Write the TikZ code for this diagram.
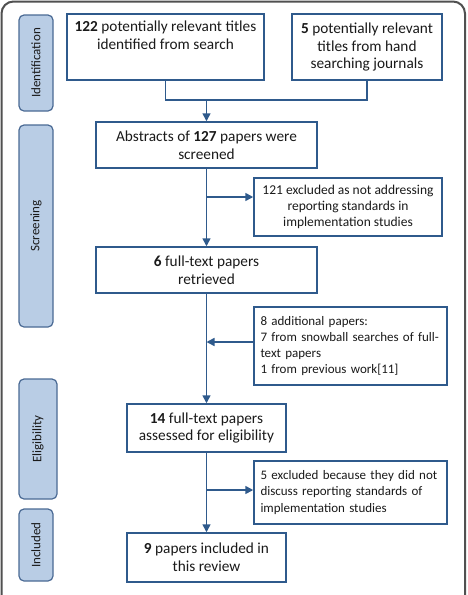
\documentclass[tikz,border=0pt]{standalone}
\usepackage{fontspec}
\setmainfont{Carlito}
\usetikzlibrary{arrows.meta}
\definecolor{boxblue}{HTML}{2F5A8C}
\definecolor{lblfill}{HTML}{B9CDE5}
\definecolor{lblline}{HTML}{4A6A94}
\definecolor{framegray}{HTML}{505050}
\definecolor{txt}{HTML}{1A1A1A}
\tikzset{
  box/.style={draw=boxblue, line width=1.5pt, rectangle, inner sep=0pt, align=center, text=txt, font=\fontsize{15.3}{17.7}\selectfont},
  sbox/.style={box, font=\fontsize{13.5}{16}\selectfont},
  lbox/.style={box, font=\fontsize{13}{16.3}\selectfont, align=left, text width=180pt},
  phase/.style={draw=lblline, fill=lblfill, line width=1.2pt, rounded corners=5pt, inner sep=0pt, text=txt},
  plabel/.style={rotate=90, text=txt, font=\fontsize{13}{15}\selectfont},
  conn/.style={draw=boxblue, line width=1.6pt},
  arr/.style={conn, -{Triangle[length=8pt,width=8pt]}}
}
\begin{document}
\begin{tikzpicture}[x=1pt,y=-1pt]
\useasboundingbox (0,0) rectangle (467,595);
\fill[white] (0,0) rectangle (467,595);
\draw[framegray, line width=2pt, rounded corners=12pt] (1.5,1.5) rectangle (465,640);
% phase labels
\node[phase, minimum width=34pt, minimum height=96pt] (pid) at (36,63) {};
\node[plabel] (tid) at (pid.center) {Identification};
\node[phase, minimum width=34pt, minimum height=202pt] (psc) at (36,226) {};
\node[plabel] (tsc) at (psc.center) {Screening};
\node[phase, minimum width=38pt, minimum height=120pt] (pel) at (38,439) {};
\node[plabel] (tel) at (pel.center) {Eligibility};
\node[phase, minimum width=34pt, minimum height=72pt] (pin) at (36,545) {};
\node[plabel] (tin) at (pin.center) {Included};
% boxes
\node[box, minimum width=197pt, minimum height=66pt] (b1) at (165.5,47) {\textbf{122} potentially relevant titles\\identified from search\\\strut};
\node[box, minimum width=150pt, minimum height=66pt] (b2) at (367,47) {\textbf{5} potentially relevant\\titles from hand\\searching journals};
\node[box, minimum width=221pt, minimum height=46pt] (b3) at (206.5,145) {Abstracts of \textbf{127} papers were\\screened};
\node[sbox, minimum width=188pt, minimum height=58pt] (b4) at (348,207) {121 excluded as not addressing\\reporting standards in\\implementation studies};
\node[box, minimum width=221pt, minimum height=46pt] (b5) at (206.5,270) {\textbf{6} full-text papers\\retrieved};
\node[lbox, minimum width=193pt, minimum height=78pt] (b6) at (350.5,346) {8 additional papers:\\7 from snowball searches of full-\\text papers\\1 from previous work[11]};
\node[box, minimum width=159pt, minimum height=48pt] (b7) at (206.5,428) {\textbf{14} full-text papers\\assessed for eligibility};
\node[lbox, minimum width=193pt, minimum height=63pt] (b8) at (350.5,492.5) {5 excluded because they did not\\discuss reporting standards of\\implementation studies};
\node[box, minimum width=159pt, minimum height=49pt] (b9) at (206.5,557.5) {\textbf{9} papers included in\\this review};
% connectors
\coordinate (m1) at (165.5,100);
\coordinate (m2) at (367,100);
\coordinate (mc) at (206.5,100);
\draw[conn] (b1.south) -- (m1) -- (m2) -- (b2.south);
\draw[arr] (mc) -- (b3.north);
\draw[arr] (b3.south) -- (b5.north);
\coordinate (j1) at (206.5,197);
\draw[arr] (j1) -- (j1 -| b4.west);
\draw[arr] (b5.south) -- (b7.north);
\coordinate (j2) at (206.5,342);
\draw[arr] (j2 -| b6.west) -- (j2);
\draw[arr] (b7.south) -- (b9.north);
\coordinate (j3) at (206.5,490);
\draw[arr] (j3) -- (j3 -| b8.west);
\end{tikzpicture}
\end{document}
